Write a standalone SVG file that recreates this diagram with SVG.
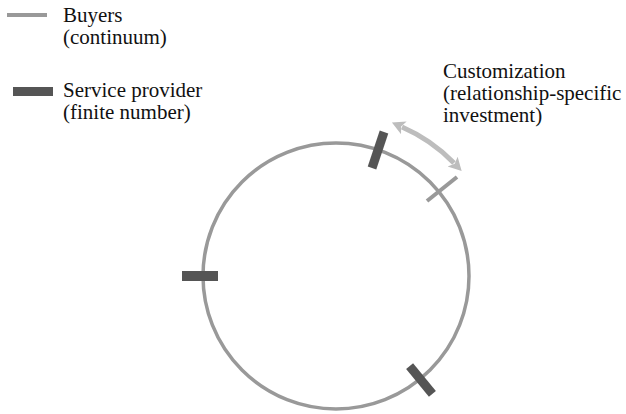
<svg xmlns="http://www.w3.org/2000/svg" width="626" height="414" viewBox="0 0 626 414">
<style>
text{font-family:"Liberation Serif","Times New Roman",serif;font-size:21px;fill:#111}
.buyer{stroke:#999;stroke-width:4;fill:none}
.prov{fill:#555}
.arrow{stroke:#bdbdbd;stroke-width:5;fill:none}
</style>
<defs>
<marker id="ah" markerUnits="userSpaceOnUse" markerWidth="16" markerHeight="16" refX="2" refY="7" orient="auto-start-reverse">
<path d="M0,0 L13,7 L0,14 L3,7 z" fill="#bdbdbd"/>
</marker>
</defs>
<g id="legend-buyers">
<line class="buyer" x1="7" y1="15" x2="47" y2="15"/>
<text x="63" y="22">Buyers</text>
<text x="63" y="44">(continuum)</text>
</g>
<g id="legend-provider">
<rect class="prov" x="13" y="87" width="40" height="9"/>
<text x="63" y="97">Service provider</text>
<text x="63" y="119">(finite number)</text>
</g>
<g id="label-customization">
<text x="443" y="78">Customization</text>
<text x="443" y="100">(relationship-specific</text>
<text x="443" y="122">investment)</text>
</g>
<g id="circle">
<circle cx="336" cy="276" r="133" stroke="#999" stroke-width="3.5" fill="none"/>
</g>
<g id="connectors">
<path class="arrow" d="M402,127 A163,163 0 0 1 454,163" marker-start="url(#ah)" marker-end="url(#ah)"/>
</g>
<g id="buyer-tick">
<line class="buyer" x1="427" y1="201" x2="457" y2="177"/>
</g>
<g id="provider-top">
<rect class="prov" x="-4.5" y="-19" width="9" height="38" transform="translate(378,150) rotate(18.4)"/>
</g>
<g id="provider-left">
<rect class="prov" x="182" y="271" width="36" height="10"/>
</g>
<g id="provider-bottom">
<rect class="prov" x="-4.5" y="-18" width="9" height="36" transform="translate(421,380) rotate(-39.3)"/>
</g>
</svg>
